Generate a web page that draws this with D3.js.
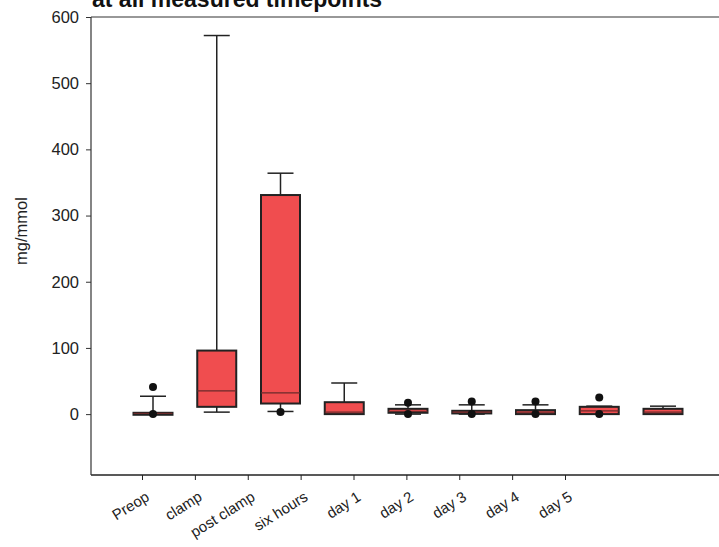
<!DOCTYPE html>
<html>
<head>
<meta charset="utf-8">
<script src="https://cdn.jsdelivr.net/npm/d3@7"></script>
<style>
  body { margin: 0; background: #fff; }
  svg text { font-family: Arial, "Liberation Sans", sans-serif; }
</style>
</head>
<body>
<div id="chart"></div>
<script>
// timepoints
const categories = ["Preop", "clamp", "post clamp", "six hours", "day 1", "day 2", "day 3", "day 4", "day 5"];
// box stats per timepoint (mg/mmol)
const whiskerLow = [0, 3, 4, 0, 0, 0, 0, 0, 0];
const q1 = [0, 11, 16, 0, 2, 1, 0, 0, 0];
const median = [1, 35, 32, 3, 4, 3, 3, 5, 3];
const q3 = [2, 96, 331, 18, 8, 5, 6, 11, 8];
const whiskerHigh = [27, 572, 364, 47, 14, 14, 14, 12, 12];
const outliers = [[41, 0], [], [3], [], [17, 0], [19, 0], [19, 0], [25, 0], []];
const yTicks = [0, 100, 200, 300, 400, 500, 600];

const W = 719, H = 547;
const svg = d3.select("#chart").append("svg")
    .attr("width", W)
    .attr("height", H);

const mLeft = 91, mTop = 17, mBottom = 475;

let y = d3.scaleLinear()
    .domain([-92, 600])
    .range([mBottom, mTop]);

// boxes sit on their own spacing, the tick labels on another (as in the figure)
let xBox = d3.scalePoint()
    .domain(categories)
    .range([153, 663]);
let xTick = d3.scalePoint()
    .domain(categories)
    .range([142, 565]);

// frame
svg.append("line").attr("x1", mLeft).attr("x2", W).attr("y1", mTop).attr("y2", mTop)
    .attr("stroke", "#333").attr("stroke-width", 1.2);
svg.append("line").attr("x1", mLeft).attr("x2", W).attr("y1", mBottom).attr("y2", mBottom)
    .attr("stroke", "#222").attr("stroke-width", 1.4);

// title (only its lower part shows, as in the scan)
svg.append("text")
    .attr("x", 92).attr("y", 7)
    .attr("font-size", 23).attr("font-weight", "bold")
    .attr("fill", "#111")
    .text("at all measured timepoints");

// y axis
let yAxis = svg.append("g")
    .attr("transform", "translate(" + mLeft + ",0)")
    .call(d3.axisLeft(y).tickValues(yTicks).tickSizeOuter(0).tickSize(5).tickPadding(7));
yAxis.select(".domain").remove();
yAxis.append("line").attr("x1", 0).attr("x2", 0).attr("y1", mTop).attr("y2", mBottom)
    .attr("stroke", "#333").attr("stroke-width", 1.2);
yAxis.selectAll(".tick line").attr("stroke", "#333");
yAxis.selectAll(".tick text").attr("font-size", 16.5).attr("fill", "#222");

svg.append("text")
    .attr("transform", "translate(27,231) rotate(-90)")
    .attr("text-anchor", "middle")
    .attr("font-size", 16.5).attr("fill", "#222")
    .text("mg/mmol");

// x axis
let xAxis = svg.append("g")
    .attr("transform", "translate(0," + mBottom + ")")
    .call(d3.axisBottom(xTick).tickSizeOuter(0).tickSize(5).tickPadding(5));
xAxis.select(".domain").remove();
xAxis.selectAll(".tick line").attr("stroke", "#222");
xAxis.selectAll(".tick text")
    .attr("font-size", 15).attr("fill", "#222")
    .attr("text-anchor", "end")
    .attr("x", 0).attr("y", 0)
    .attr("dy", "0.35em")
    .attr("transform", "translate(5,20) rotate(-32)");

// boxes
const bw = 39;
let g = svg.append("g");
categories.forEach(function (c, i) {
    let cx = xBox(c);
    // whisker line
    g.append("line")
        .attr("x1", cx).attr("x2", cx)
        .attr("y1", y(whiskerHigh[i])).attr("y2", y(q3[i]))
        .attr("stroke", "#222").attr("stroke-width", 1.5);
    g.append("line")
        .attr("x1", cx).attr("x2", cx)
        .attr("y1", y(q1[i])).attr("y2", y(whiskerLow[i]))
        .attr("stroke", "#222").attr("stroke-width", 1.5);
    // caps
    [whiskerHigh[i], whiskerLow[i]].forEach(function (v) {
        g.append("line")
            .attr("x1", cx - 13).attr("x2", cx + 13)
            .attr("y1", y(v)).attr("y2", y(v))
            .attr("stroke", "#222").attr("stroke-width", 1.5);
    });
    // box
    let h = Math.max(y(q1[i]) - y(q3[i]), 2);
    g.append("rect")
        .attr("x", cx - bw / 2).attr("y", y(q3[i]))
        .attr("width", bw).attr("height", h)
        .attr("fill", "#f04d4f")
        .attr("stroke", "#222").attr("stroke-width", 2);
    g.append("line")
        .attr("x1", cx - bw / 2).attr("x2", cx + bw / 2)
        .attr("y1", y(median[i])).attr("y2", y(median[i]))
        .attr("stroke", "#6b2a2a").attr("stroke-width", 1.3);
    outliers[i].forEach(function (v) {
        g.append("circle")
            .attr("cx", cx).attr("cy", y(v)).attr("r", 4)
            .attr("fill", "#111");
    });
});
</script>
</body>
</html>
